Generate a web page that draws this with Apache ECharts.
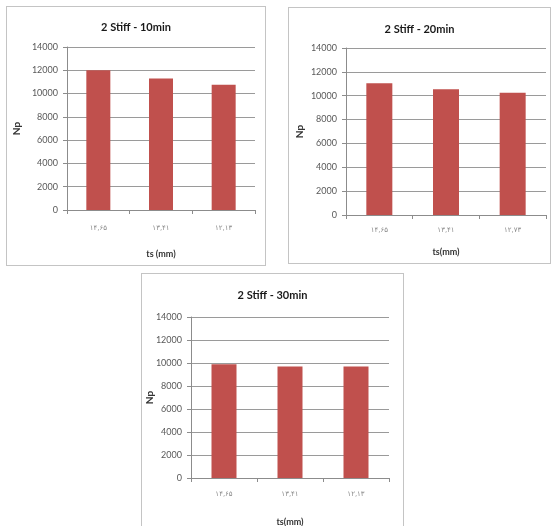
<!DOCTYPE html>
<html>
<head>
<meta charset="utf-8">
<script src="https://cdn.jsdelivr.net/npm/echarts@6/dist/echarts.min.js"></script>
<style>
  html, body { margin: 0; padding: 0; background: #ffffff; width: 553px; height: 526px; overflow: hidden; }
  .panel { position: absolute; border: 1px solid #c4c4c4; background: #ffffff; box-sizing: border-box; }
  #p1 { left: 6px; top: 6px; width: 260px; height: 260px; }
  #p2 { left: 288px; top: 7px; width: 263px; height: 257px; }
  #p3 { left: 141px; top: 273px; width: 263px; height: 262px; }
</style>
</head>
<body>
<div id="p1" class="panel"></div>
<div id="p2" class="panel"></div>
<div id="p3" class="panel"></div>
<script>
// ---- data ----
const titles = ['2 Stiff - 10min', '2 Stiff - 20min', '2 Stiff - 30min'];
const categories10 = ['۱۴,۶۵', '۱۳,۴۱', '۱۲,۱۳'];
const categories20 = ['۱۴,۶۵', '۱۳,۴۱', '۱۲,۷۳'];
const categories30 = ['۱۴,۶۵', '۱۳,۴۱', '۱۲,۱۳'];
const values10 = [12000, 11300, 10750];
const values20 = [11050, 10550, 10250];
const values30 = [9900, 9700, 9700];
const xName = ['ts (mm)', 'ts(mm)', 'ts(mm)'];
const yName = 'Np';
const yMin = 0, yMax = 14000, yStep = 2000;

function makeOption(title, cats, vals, xn, L) {
  return {
    animation: false,
    backgroundColor: '#ffffff',
    title: {
      text: title, left: 'center', top: L.titleTop,
      textStyle: { fontFamily: 'Lato', fontWeight: 'bold', fontSize: 11, color: '#1a1a1a' }
    },
    grid: { left: L.left, right: L.right, top: L.top, bottom: L.bottom, containLabel: false, outerBoundsMode: 'none' },
    xAxis: {
      type: 'category', data: cats,
      name: xn, nameLocation: 'middle', nameGap: L.xNameGap, nameMoveOverlap: false,
      nameTextStyle: { fontFamily: 'Lato', fontWeight: 'bold', fontSize: 9, color: '#333333' },
      axisLine: { lineStyle: { color: '#8c8c8c', width: 1 } },
      axisTick: { show: true, length: 4, lineStyle: { color: '#8c8c8c' } },
      axisLabel: { margin: L.xLabelMargin, fontFamily: 'DejaVu Sans', fontSize: 7, color: '#8a8a8a' }
    },
    yAxis: {
      type: 'value', min: yMin, max: yMax, interval: yStep,
      name: yName, nameLocation: 'middle', nameGap: L.yNameGap, nameRotate: 90, nameMoveOverlap: false,
      nameTextStyle: { fontFamily: 'Lato', fontWeight: 'bold', fontSize: 10, color: '#333333' },
      axisLine: { show: true, lineStyle: { color: '#8c8c8c', width: 1 } },
      axisTick: { show: true, length: 4, lineStyle: { color: '#8c8c8c' } },
      axisLabel: { margin: 9, fontFamily: 'Lato', fontSize: 9, color: '#595959',
                   formatter: function (v) { return String(v); } },
      splitLine: { show: true, lineStyle: { color: '#9a9a9a', width: 1 } }
    },
    series: [{
      type: 'bar', data: vals, barWidth: L.barWidth,
      itemStyle: { color: '#c0504d' }
    }]
  };
}

const layouts = [
  { titleTop: 10, left: 60, right: 10, top: 40, bottom: 55, xNameGap: 40, xLabelMargin: 15, yNameGap: 45, barWidth: 24 },
  { titleTop: 11, left: 57, right: 4, top: 40, bottom: 48, xNameGap: 33, xLabelMargin: 12, yNameGap: 41, barWidth: 26 },
  { titleTop: 11, left: 49, right: 14, top: 43, bottom: 56, xNameGap: 40, xLabelMargin: 13, yNameGap: 36, barWidth: 25 }
];

const cats = [categories10, categories20, categories30];
const vals = [values10, values20, values30];
['p1', 'p2', 'p3'].forEach(function (id, i) {
  const chart = echarts.init(document.getElementById(id), null, { renderer: 'canvas' });
  chart.setOption(makeOption(titles[i], cats[i], vals[i], xName[i], layouts[i]));
});
</script>
</body>
</html>
